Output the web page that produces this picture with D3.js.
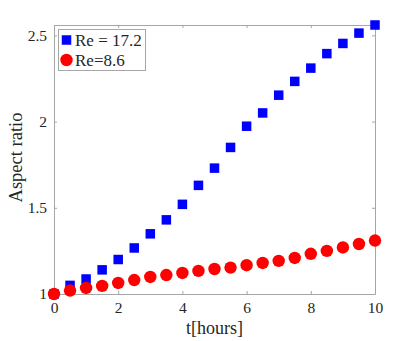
<!DOCTYPE html>
<html><head><meta charset="utf-8">
<script src="https://cdn.jsdelivr.net/npm/d3@7"></script>
<style>body{margin:0;background:#fff}svg{display:block}</style>
</head><body>
<svg id="c" width="415" height="341"></svg>
<script>
const t = [0,0.5,1,1.5,2,2.5,3,3.5,4,4.5,5,5.5,6,6.5,7,7.5,8,8.5,9,9.5,10];
const re172 = [1.0,1.05,1.087,1.14,1.20,1.267,1.349,1.43,1.52,1.63,1.73,1.85,1.973,2.05,2.153,2.233,2.31,2.394,2.453,2.513,2.56];
const re86 = [1.0,1.02,1.035,1.047,1.064,1.081,1.099,1.11,1.122,1.134,1.145,1.153,1.167,1.18,1.192,1.209,1.233,1.25,1.27,1.29,1.31];
const xTicks = [0,2,4,6,8,10];
const yTicks = [1,1.5,2,2.5];
const seriesNames = ["Re = 17.2","Re=8.6"];

const svg = d3.select("#c");
const L=54, R=375, T=25, B=294;
const x = d3.scaleLinear().domain([0,10]).range([L,R]);
const y = d3.scaleLinear().domain([1,2.56]).range([B,T]);
const axisCol = "#a6a6a6", txt="#262626", font="Liberation Serif, Times New Roman, serif";

const g = svg.append("g");
function styleAxis(sel){
  sel.select(".domain").attr("stroke",axisCol);
  sel.selectAll(".tick line").attr("stroke",axisCol);
  sel.selectAll("text").attr("fill",txt).style("font-family",font).style("font-size","15.5px");
}
const xb = g.append("g").attr("transform",`translate(0,${B})`)
  .call(d3.axisBottom(x).tickValues(xTicks).tickSize(-3).tickSizeOuter(0).tickPadding(8).tickFormat(d3.format("d")));
styleAxis(xb);
const xt = g.append("g").attr("transform",`translate(0,${T})`)
  .call(d3.axisTop(x).tickValues(xTicks).tickSize(-3).tickSizeOuter(0).tickFormat(""));
styleAxis(xt);
const yl = g.append("g").attr("transform",`translate(${L},0)`)
  .call(d3.axisLeft(y).tickValues(yTicks).tickSize(-3).tickSizeOuter(0).tickPadding(7).tickFormat(d=>d3.format("")(d)));
styleAxis(yl);
const yr = g.append("g").attr("transform",`translate(${R},0)`)
  .call(d3.axisRight(y).tickValues(yTicks).tickSize(-3).tickSizeOuter(0).tickFormat(""));
styleAxis(yr);

svg.append("text").attr("x",(L+R)/2).attr("y",334).attr("text-anchor","middle")
  .attr("fill",txt).style("font-family",font).style("font-size","18px").text("t[hours]");
svg.append("text").attr("transform",`translate(22,${(T+B)/2 - 2}) rotate(-90)`).attr("text-anchor","middle")
  .attr("fill",txt).style("font-family",font).style("font-size","18.5px").text("Aspect ratio");

const s = 9.5;
g.append("g").selectAll("rect").data(t).join("rect")
  .attr("x",(d)=>x(d)-s/2).attr("y",(d,i)=>y(re172[i])-s/2)
  .attr("width",s).attr("height",s).attr("fill","#0000ff");
g.append("g").selectAll("circle").data(t).join("circle")
  .attr("cx",d=>x(d)).attr("cy",(d,i)=>y(re86[i])).attr("r",6.2).attr("fill","#ff0000");

const lg = svg.append("g");
lg.append("rect").attr("x",58.5).attr("y",29.5).attr("width",87).attr("height",41)
  .attr("fill","#fff").attr("stroke",axisCol);
lg.append("rect").attr("x",66.5-s/2).attr("y",40-s/2).attr("width",s).attr("height",s).attr("fill","#0000ff");
lg.append("circle").attr("cx",66.5).attr("cy",60).attr("r",6.2).attr("fill","#ff0000");
lg.selectAll("text").data(seriesNames).join("text")
  .attr("x",75).attr("y",(d,i)=>46+i*20).attr("fill",txt)
  .style("font-family",font).style("font-size","17px").text(d=>d);
</script>
</body></html>
